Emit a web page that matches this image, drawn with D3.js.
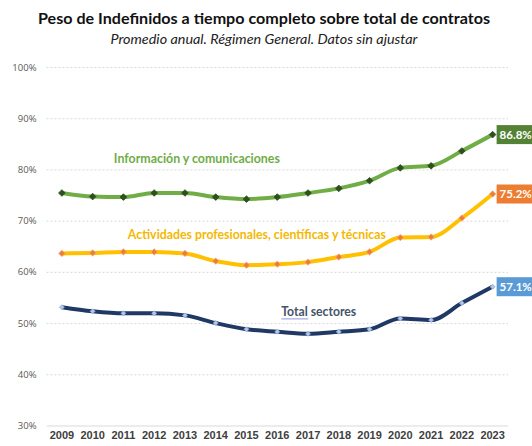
<!DOCTYPE html>
<html>
<head>
<meta charset="utf-8">
<script src="https://cdn.jsdelivr.net/npm/d3@7"></script>
<style>
  body { margin: 0; background: #fff; }
  svg { display: block; }
</style>
</head>
<body>
<div id="chart"></div>
<script>
/* Chart data */
const years = ["2009", "2010", "2011", "2012", "2013", "2014", "2015", "2016",
  "2017", "2018", "2019", "2020", "2021", "2022", "2023"];
const yTicks = [30, 40, 50, 60, 70, 80, 90, 100];

const infoValues = [75.4, 74.7, 74.6, 75.4, 75.4, 74.6, 74.2, 74.6, 75.4, 76.3, 77.8, 80.3, 80.7, 83.6, 86.8];
const profValues = [63.6, 63.7, 63.9, 63.9, 63.6, 62.1, 61.3, 61.5, 61.9, 62.9, 63.9, 66.7, 66.8, 70.5, 75.2];
const totalValues = [53.1, 52.3, 51.9, 51.9, 51.5, 50.0, 48.8, 48.3, 47.9, 48.3, 48.8, 50.9, 50.6, 53.9, 57.1];

const seriesNames = ["Información y comunicaciones", "Actividades profesionales, científicas y técnicas", "Total sectores"];

const width = 532, height = 446;
const margins = {top: 67, right: 24, bottom: 20.5, left: 46.5};

const svg = d3.select("#chart")
  .append("svg")
  .attr("width", width)
  .attr("height", height)
  .style("font-family", "Lato, 'Open Sans', sans-serif");

/* Scales */
const xScale = d3.scaleBand()
  .domain(years)
  .range([margins.left, width - margins.right]);

const yScale = d3.scaleLinear()
  .domain([30, 100])
  .range([height - margins.bottom, margins.top]);

const xPos = d => xScale(d) + xScale.bandwidth() / 2;

/* Title */
svg.append("text")
  .attr("x", 264)
  .attr("y", 24)
  .attr("text-anchor", "middle")
  .attr("textLength", 452)
  .attr("lengthAdjust", "spacingAndGlyphs")
  .style("font-size", "15px")
  .style("font-weight", "bold")
  .style("fill", "#111")
  .text("Peso de Indefinidos a tiempo completo sobre total de contratos");

svg.append("text")
  .attr("x", 264)
  .attr("y", 44)
  .attr("text-anchor", "middle")
  .attr("textLength", 307)
  .attr("lengthAdjust", "spacingAndGlyphs")
  .style("font-size", "12.5px")
  .style("font-style", "italic")
  .style("fill", "#222")
  .text("Promedio anual. Régimen General. Datos sin ajustar");

/* Y axis with dotted gridlines */
const yAxis = d3.axisLeft(yScale)
  .tickValues(yTicks)
  .tickSize(-(width - margins.left - margins.right))
  .tickPadding(10)
  .tickFormat(d => d + "%");

const yGroup = svg.append("g")
  .attr("transform", `translate(${margins.left},0)`)
  .call(yAxis);

yGroup.select(".domain").remove();
yGroup.selectAll(".tick line")
  .attr("stroke", "#d9d9d9")
  .attr("stroke-dasharray", d => d === 30 ? null : "2,2");
yGroup.selectAll(".tick text")
  .style("font-family", "'Open Sans', sans-serif")
  .style("font-size", "9.5px")
  .style("fill", "#595959");

/* X axis */
const xAxis = d3.axisBottom(xScale).tickSize(0).tickPadding(6);

const xGroup = svg.append("g")
  .attr("transform", `translate(0,${height - margins.bottom})`)
  .call(xAxis);

xGroup.select(".domain").remove();
xGroup.selectAll(".tick text")
  .style("font-size", "11px")
  .style("font-weight", "bold")
  .style("fill", "#404040");

/* Lines */
const line = d3.line()
  .curve(d3.curveMonotoneX)
  .x((d, i) => xPos(years[i]))
  .y(d => yScale(d));

const series = [
  {name: seriesNames[0], values: infoValues, stroke: "#70ad47", marker: "#2f4f1f", markerStroke: "#2f4f1f", box: "#548235", size: 22},
  {name: seriesNames[1], values: profValues, stroke: "#ffc000", marker: "#ed7d31", markerStroke: "#f4a574", box: "#ed7d31", size: 20},
  {name: seriesNames[2], values: totalValues, stroke: "#1f3864", marker: "#b4c7e7", markerStroke: "#8faadc", box: "#5b9bd5", size: 12}
];

series.forEach(s => {
  const marker = d3.symbol().type(d3.symbolSquare).size(s.size);

  svg.append("path")
    .datum(s.values)
    .attr("d", line)
    .style("fill", "none")
    .style("stroke", "#ffffff")
    .style("stroke-opacity", 0.7)
    .style("stroke-width", 6);

  svg.append("path")
    .datum(s.values)
    .attr("d", line)
    .style("fill", "none")
    .style("stroke", s.stroke)
    .style("stroke-width", 4);

  svg.append("g")
    .selectAll("path")
    .data(s.values)
    .join("path")
      .attr("transform", (d, i) => `translate(${xPos(years[i])},${yScale(d)}) rotate(45)`)
      .attr("d", marker)
      .style("fill", s.marker)
      .style("stroke", s.markerStroke)
      .style("stroke-width", 0.8);

  /* Value box for the last year */
  const last = s.values[s.values.length - 1];
  const bx = xPos(years[years.length - 1]) + 4;
  const by = yScale(last);
  svg.append("rect")
    .attr("x", bx)
    .attr("y", by - 9.5)
    .attr("width", width - bx)
    .attr("height", 19)
    .style("fill", s.box);
  svg.append("text")
    .attr("x", bx + 3)
    .attr("y", by)
    .attr("dy", "0.36em")
    .style("font-size", "11.5px")
    .style("font-weight", "bold")
    .style("fill", "#ffffff")
    .text(last.toFixed(1) + "%");
});

/* Series labels */
svg.append("text")
  .attr("x", xPos("2009") + 52)
  .attr("y", yScale(81.2))
  .attr("textLength", 166)
  .attr("lengthAdjust", "spacingAndGlyphs")
  .style("font-size", "12.3px")
  .style("font-weight", "bold")
  .style("fill", "#70ad47")
  .text(seriesNames[0]);

svg.append("text")
  .attr("x", xPos("2009") + 66)
  .attr("y", yScale(66.4))
  .attr("textLength", 258)
  .attr("lengthAdjust", "spacingAndGlyphs")
  .style("font-size", "12.3px")
  .style("font-weight", "bold")
  .style("fill", "#f5b800")
  .text(seriesNames[1]);

svg.append("text")
  .attr("x", xPos("2016") + 4)
  .attr("y", yScale(51.4))
  .attr("textLength", 75)
  .attr("lengthAdjust", "spacingAndGlyphs")
  .style("font-size", "12.3px")
  .style("font-weight", "bold")
  .style("fill", "#44546a")
  .text(seriesNames[2]);

/* Blue underline under "Total" as in the reference */
svg.append("line")
  .attr("x1", xPos("2016") + 4)
  .attr("x2", xPos("2016") + 31)
  .attr("y1", yScale(51.4) + 3)
  .attr("y2", yScale(51.4) + 3)
  .style("stroke", "#8e97d8")
  .style("stroke-width", 1);
</script>
</body>
</html>
